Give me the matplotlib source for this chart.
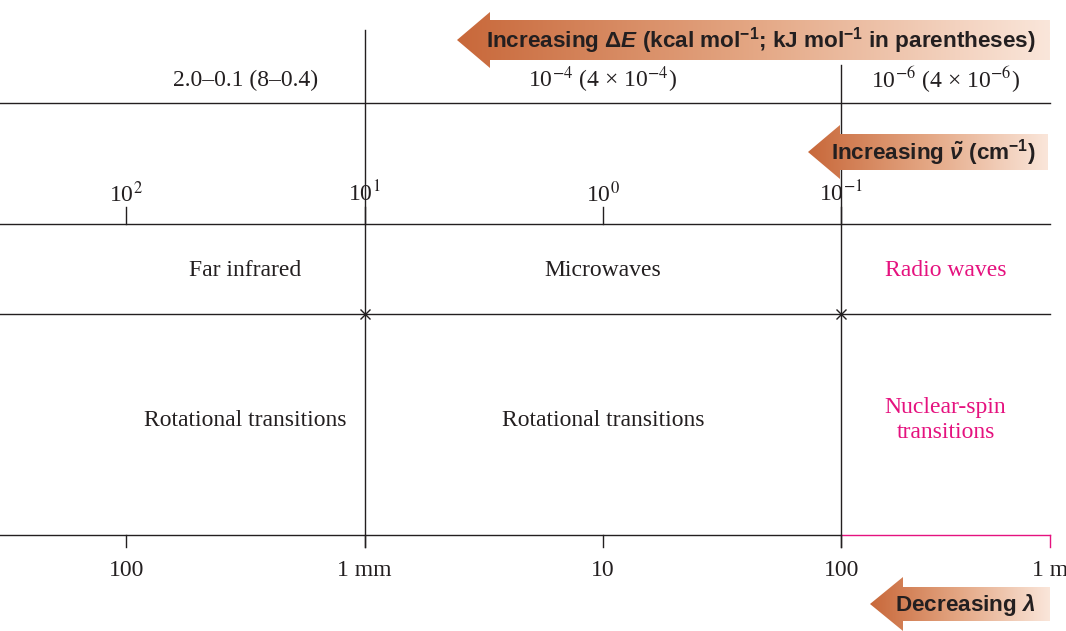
import numpy as np
import matplotlib
matplotlib.use('Agg')
import matplotlib.pyplot as plt
from matplotlib.patches import Polygon
from matplotlib.colors import LinearSegmentedColormap

plt.rcParams['mathtext.fontset'] = 'custom'
plt.rcParams['mathtext.rm'] = 'Liberation Sans:bold'
plt.rcParams['mathtext.it'] = 'Liberation Sans:bold:italic'
plt.rcParams['mathtext.bf'] = 'Liberation Sans:bold'

# ---------------- data ----------------
wavenumber_exp = [2, 1, 0, -1]                      # top scale, cm^-1 = 10^exp
energy_ranges = ['2.0–0.1 (8–0.4)',
                 '10$^{-4}$ (4 × 10$^{-4}$)',
                 '10$^{-6}$ (4 × 10$^{-6}$)']
regions = ['Far infrared', 'Microwaves', 'Radio waves']
transitions = ['Rotational transitions', 'Rotational transitions',
               'Nuclear-spin\ntransitions']
wavelength_labels = ['100', '1 mm', '10', '100', '1 m']
region_bounds = [-1, 1]                             # boundaries (decades) between regions

# ---------------- style / layout ----------------
INK = '#231f20'
PINK = '#e5127f'
SERIF = 'Liberation Serif'
SANS = 'Liberation Sans'
FS = 17.0
AFS = 16.2
PX_PER_DEC = 238.3
X0 = 603.0
W, H = 1066, 631
D_END = (1050 - X0) / PX_PER_DEC
D_LEFT = (0 - X0) / PX_PER_DEC
D_RIGHT = (W - X0) / PX_PER_DEC

fig = plt.figure(figsize=(W / 100, H / 100), dpi=100)
ax = fig.add_axes([0, 0, 1, 1])
ax.set_xlim(D_LEFT, D_RIGHT)
ax.set_ylim(H, 0)
ax.axis('off')

lw = 1.0
decades = [-e for e in wavenumber_exp]

# horizontal rules
for y in [103, 224, 314]:
    ax.plot([D_LEFT, D_END], [y, y], color=INK, lw=lw)
ax.plot([D_LEFT, region_bounds[1]], [535, 535], color=INK, lw=lw)
ax.plot([region_bounds[1], D_END], [535, 535], color=PINK, lw=lw)
ax.plot([D_END, D_END], [535, 547], color=PINK, lw=lw)

# vertical boundaries
ax.plot([region_bounds[0]] * 2, [30, 547], color=INK, lw=lw)
ax.plot([region_bounds[1]] * 2, [65, 547], color=INK, lw=lw)
ax.plot(region_bounds, [314, 314], ls='none', marker='x', ms=7, mew=1.0, color=INK)

# top wavenumber ticks
for d, e in zip(decades, wavenumber_exp):
    ax.plot([d, d], [207, 224], color=INK, lw=lw)
    ax.text(d, 194, f'10$^{{{e}}}$', ha='center', va='center', fontsize=FS,
            family=SERIF, math_fontfamily='stix', color=INK)

# bottom wavelength ticks
bottom_pos = decades + [D_END]
for d, lab in zip(bottom_pos, wavelength_labels):
    if d != D_END:
        ax.plot([d, d], [535, 547], color=INK, lw=lw)
    ax.text(d, 571, lab, ha='center', va='center', fontsize=FS,
            family=SERIF, color=INK)

# region centres
centers = [(decades[0] + region_bounds[0]) / 2, 0, (region_bounds[1] + D_END) / 2]
colors = [INK, INK, PINK]
for c, txt in zip(centers, energy_ranges):
    ax.text(c, 80, txt, ha='center', va='center', fontsize=FS, family=SERIF,
            math_fontfamily='stix', color=INK)
for c, txt, col in zip(centers, regions, colors):
    ax.text(c, 270, txt, ha='center', va='center', fontsize=FS, family=SERIF, color=col)
for c, txt, col in zip(centers, transitions, colors):
    ax.text(c, 420, txt, ha='center', va='center', fontsize=FS, family=SERIF,
            color=col, linespacing=1.3)

# gradient arrows
cmap = LinearSegmentedColormap.from_list('arr', ['#c8683a', '#e4a784', '#fae6da'])


def px(x):
    return (x - X0) / PX_PER_DEC


def arrow(tip, base, right, yc, body, head, label):
    pts = [(px(tip), yc), (px(base), yc - head), (px(base), yc - body),
           (px(right), yc - body), (px(right), yc + body), (px(base), yc + body),
           (px(base), yc + head)]
    poly = Polygon(pts, closed=True, facecolor='none', edgecolor='none')
    ax.add_patch(poly)
    grad = np.linspace(0, 1, 256).reshape(1, -1)
    im = ax.imshow(grad, cmap=cmap, aspect='auto',
                   extent=(px(tip), px(right), yc + head, yc - head), zorder=2)
    im.set_clip_path(poly)
    ax.text(px(1036), yc + 1, label, ha='right', va='center', fontsize=AFS,
            family=SANS, fontweight='bold', color=INK, zorder=3)


arrow(457, 490, 1050, 40, 20, 28,
      r'Increasing $\Delta\mathit{E}$ (kcal mol$^{\mathbf{-1}}$; kJ mol$^{\mathbf{-1}}$ in parentheses)')
arrow(808, 840, 1048, 152, 18, 27, r'Increasing $\tilde{\nu}$ (cm$^{\mathbf{-1}}$)')
arrow(870, 903, 1050, 604, 17, 27, r'Decreasing $\lambda$')

ax.set_xlim(D_LEFT, D_RIGHT)
ax.set_ylim(H, 0)
fig.savefig('out.png', dpi=100)
